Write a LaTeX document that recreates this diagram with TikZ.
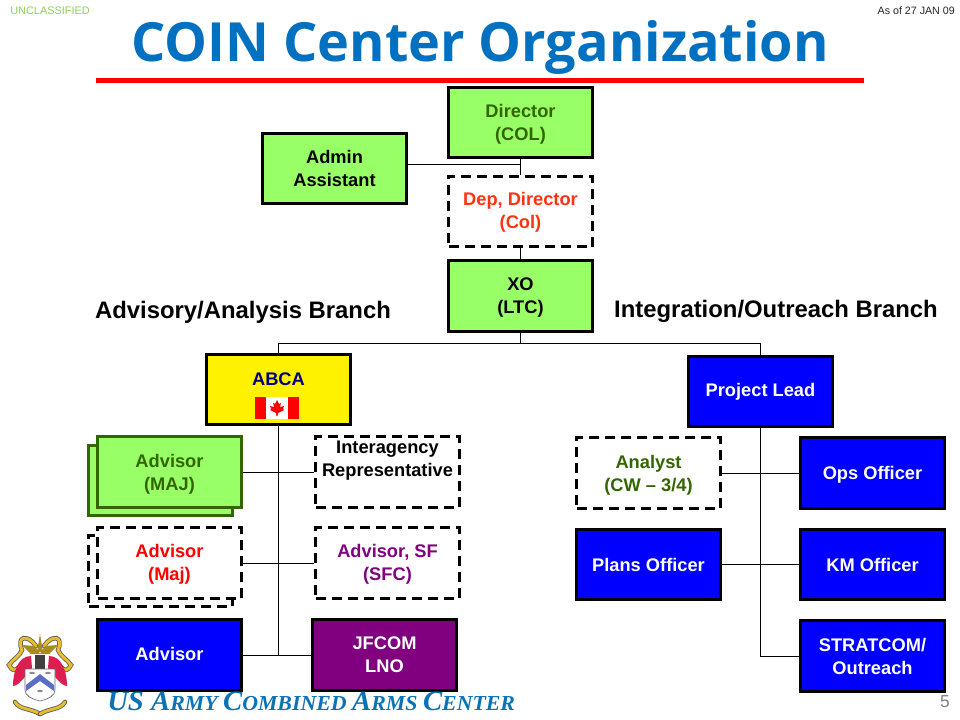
\documentclass[tikz,border=0pt]{standalone}
\usepackage{fontspec}
\setmainfont{Liberation Sans}
\newfontfamily\titlefont{Open Sans}
\newfontfamily\footfont[FakeStretch=1.025]{Liberation Serif}
\newcommand\tpa{\rule{0pt}{11.5pt}}
\newcommand\tpb{\rule{0pt}{13pt}}
\definecolor{boxgreen}{HTML}{99FF66}
\definecolor{dkgreen}{HTML}{336600}
\definecolor{boxblue}{HTML}{0000FF}
\definecolor{boxpurple}{HTML}{800080}
\definecolor{titleblue}{HTML}{0070C0}
\definecolor{footblue}{HTML}{0B72B5}
\definecolor{classgreen}{HTML}{92D050}
\definecolor{orangered}{HTML}{FF3311}
\definecolor{navy}{HTML}{000080}
\definecolor{leaf}{HTML}{E6BE2E}
\definecolor{crest}{HTML}{A88A1E}
\definecolor{crim}{HTML}{DC1E50}
\definecolor{chev}{HTML}{5A6EC8}
\tikzset{
  x=0.75pt,y=-0.75pt,
  orgbox/.style={draw=black,line width=2.25pt,rectangle,minimum width=108pt,minimum height=53pt,inner sep=0pt,align=center,
    font=\fontsize{13.7}{17.2}\selectfont\bfseries},
  solidgreen/.style={orgbox,fill=boxgreen},
  solidblue/.style={orgbox,fill=boxblue,text=white},
  solidpurple/.style={orgbox,fill=boxpurple,text=white},
  dashbox/.style={orgbox,fill=white,dash pattern=on 7.5pt off 4.5pt},
  wire/.style={draw=black,line width=0.75pt},
  branch/.style={font=\fontsize{17.9}{20}\selectfont\bfseries,anchor=base,inner sep=0pt},
  scrollout/.style={draw=black!65,line width=3.4pt,line cap=round},
  scrollin/.style={draw=leaf,line width=2.2pt,line cap=round},
}
\begin{document}
\begin{tikzpicture}
\useasboundingbox (0,0) rectangle (960,720);
\fill[white] (0,0) rectangle (960,720);

% header
\node[anchor=base west,inner sep=0pt,text=classgreen,font=\fontsize{8.2}{9}\selectfont] (cls) at (10,15) {UNCLASSIFIED};
\node[anchor=base east,inner sep=0pt,font=\fontsize{8}{9}\selectfont,text=black!85] (asof) at (955,15) {As of 27 JAN 09};
\node[anchor=base,inner sep=0pt,text=titleblue,font=\titlefont\fontsize{40.5}{48}\selectfont\bfseries] (title) at (480,62) {COIN Center Organization};
\fill[red] (96,78) rectangle (864,83);

% back sheets
\node[solidgreen,draw=dkgreen] (advback) at (160.5,480.5) {};
\node[dashbox] (maback) at (160.5,571) {};

% nodes
\node[solidgreen,text=dkgreen] (dir) at (520.5,122.5) {\tpb Director\\(COL)};
\node[solidgreen] (admin) at (334.5,168.5) {Admin\\Assistant};
\node[dashbox,text=orangered] (dep) at (520.5,211.5) {\tpa Dep, Director\\(Col)};
\node[solidgreen] (xo) at (520.5,296) {\tpa XO\\(LTC)};
\node[orgbox,fill=yellow,text=navy,text depth=16pt] (abca) at (278.5,389.5) {ABCA};
\node[solidblue] (plead) at (760.5,391.5) {Project Lead};
\node[solidgreen,draw=dkgreen,text=dkgreen] (advmaj) at (169.5,472) {\tpb Advisor\\(MAJ)};
\node[dashbox,text=red] (advmaj2) at (169.5,563) {\tpa Advisor\\(Maj)};
\node[solidblue,text depth=1.5pt] (adv) at (169.5,655) {Advisor};
\node[dashbox,text depth=20pt] (inter) at (387.5,472) {Interagency\\Representative};
\node[dashbox,text=boxpurple] (sf) at (387.5,563) {\tpa Advisor, SF\\(SFC)};
\node[solidpurple] (jfcom) at (384.5,655) {JFCOM\\LNO};
\node[dashbox,text=dkgreen] (analyst) at (648.5,473) {\tpb Analyst\\(CW -- 3/4)};
\node[solidblue] (ops) at (872.5,473) {\tpb Ops Officer};
\node[solidblue] (plans) at (648.5,564.5) {Plans Officer};
\node[solidblue] (km) at (872.5,564.5) {KM Officer};
\node[solidblue] (strat) at (872.5,656) {STRATCOM/\\Outreach};

% branch titles
\node[branch] (lb) at (243,319) {Advisory/Analysis Branch};
\node[branch] (rb) at (776,317) {Integration/Outreach Branch};

% flag
\begin{scope}[shift={(277,408)}]
  \fill[white] (-22,-11) rectangle (22,11);
  \fill[red] (-22,-11) rectangle (-11,11);
  \fill[red] (11,-11) rectangle (22,11);
  \fill[red] (0,-8) -- (2,-4) -- (4,-5) -- (3,-1) -- (7,-2) -- (6,1) -- (7,2) -- (1,5) -- (.5,8) -- (-.5,8) -- (-1,5) -- (-7,2) -- (-6,1) -- (-7,-2) -- (-3,-1) -- (-4,-5) -- (-2,-4) -- cycle;
\end{scope}

% connectors
\coordinate (jadmin) at (520.5,165);
\coordinate (bus) at (520.5,343);
\coordinate (trunkL) at (278.5,655);
\coordinate (trunkR) at (760.5,656);
\draw[wire] (dir.south) -- (dep.north);
\draw[wire] (admin.east |- jadmin) -- (jadmin);
\draw[wire] (dep.south) -- (xo.north);
\draw[wire] (xo.south) -- (bus);
\draw[wire] (abca.north) |- (bus);
\draw[wire] (plead.north) |- (bus);
\draw[wire] (abca.south) -- (trunkL);
\draw[wire] (adv.east) -- (jfcom.west);
\draw[wire] (advmaj.east) -- (inter.west);
\draw[wire] (advmaj2.east) -- (sf.west);
\draw[wire] (plead.south) -- (trunkR) -- (strat.west);
\draw[wire] (analyst.east) -- (ops.west);
\draw[wire] (plans.east) -- (km.west);

% footer
\node[anchor=base west,inner sep=0pt,text=footblue,font=\footfont\bfseries\itshape] (foot) at (107,710)
  {\fontsize{21}{24}\selectfont US A\fontsize{16}{24}\selectfont RMY \fontsize{21}{24}\selectfont C\fontsize{16}{24}\selectfont OMBINED \fontsize{21}{24}\selectfont A\fontsize{16}{24}\selectfont RMS \fontsize{21}{24}\selectfont C\fontsize{16}{24}\selectfont ENTER};
\node[anchor=base,inner sep=0pt,text=black!50,font=\fontsize{13}{15}\selectfont] (pnum) at (945,707) {5};

% emblem
\begin{scope}[shift={(40,676)}]
  \foreach \s in {-1,1}{
    \begin{scope}[xscale=\s]
      \draw[scrollout] (4,-30) .. controls (12,-42) and (24,-40) .. (18,-26) .. controls (20,-20) and (28,-16) .. (31,-11) .. controls (28,-5) and (25,-5) .. (22,-8);
      \draw[scrollin] (4,-30) .. controls (12,-42) and (24,-40) .. (18,-26) .. controls (20,-20) and (28,-16) .. (31,-11) .. controls (28,-5) and (25,-5) .. (22,-8);
      \fill[crim] (9,-20) .. controls (22,-20) and (27,-4) .. (27,10) .. controls (23,10) and (20,6) .. (16,2) -- (8,-8) -- cycle;
      \fill[crest] (0,-22) -- (5,-30) -- (18,-31) -- (9,-22) -- cycle;
      \draw[scrollout] (25,26) .. controls (20,34) and (10,32) .. (0,38);
      \draw[scrollin] (25,26) .. controls (20,34) and (10,32) .. (0,38);
    \end{scope}
  }
  \fill[crest] (-3,-24) -- (0,-42) -- (3,-24) -- cycle;
  \fill[black!75] (-5,-21) rectangle (5,-6);
  \filldraw[fill=white,draw=black!60,line width=.5pt] (-15,-7) -- (15,-7) -- (15,14) .. controls (15,20) and (8,23) .. (0,25) .. controls (-8,23) and (-15,20) .. (-15,14) -- cycle;
  \fill[chev] (-14,9) -- (0,-2) -- (14,9) -- (14,15) -- (0,5) -- (-14,15) -- cycle;
  \fill[black!45] (-8,-3) ellipse (3 and 1.2) (8,-3) ellipse (3 and 1.2) (0,15) ellipse (3 and 1.2);
\end{scope}
\end{tikzpicture}
\end{document}
